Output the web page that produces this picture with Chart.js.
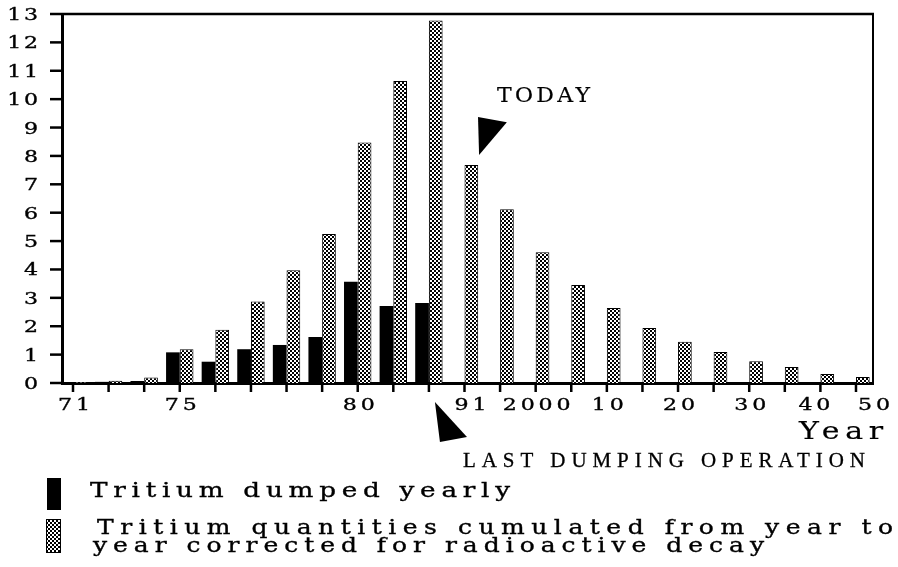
<!DOCTYPE html>
<html>
<head>
<meta charset="utf-8">
<script src="https://cdn.jsdelivr.net/npm/chart.js@4"></script>
<style>
  html, body { margin: 0; padding: 0; background: #fff; }
  canvas { display: block; }
</style>
</head>
<body>
<canvas id="c" width="898" height="567"></canvas>
<script>
// ---- data ----
const tickLabels = ['71','','','75','','','','','80','','','91','','2000','','10','','20','','30','','40','50'];
const dumpedYearly = [0.02,0.04,0.07,1.08,0.75,1.19,1.34,1.62,3.57,2.71,2.82,null,null,null,null,null,null,null,null,null,null,null,null];
const cumulatedDecay = [0.03,0.08,0.19,1.19,1.88,2.87,3.97,5.25,8.47,10.64,12.77,7.68,6.12,4.61,3.45,2.64,1.94,1.45,1.09,0.77,0.56,0.32,0.21];
const yMin = 0, yMax = 13, yStep = 1;
const legendLabels = ['Tritium dumped yearly', 'Tritium quantities cumulated from year to', 'year corrected for radioactive decay'];
const noteToday = 'TODAY';
const noteLast = 'LAST DUMPING OPERATION';
const axisTitleX = 'Year';

// ---- hatch pattern ----
const pc = document.createElement('canvas');
pc.width = 4; pc.height = 4;
const pctx = pc.getContext('2d');
pctx.fillStyle = '#fff'; pctx.fillRect(0, 0, 4, 4);
pctx.fillStyle = '#000'; pctx.fillRect(0, 0, 2, 2); pctx.fillRect(2, 2, 2, 2);
pctx.fillRect(1, 1, 1, 1);
const canvas = document.getElementById('c');
const ctx0 = canvas.getContext('2d');
const hatch = ctx0.createPattern(pc, 'repeat');

const SERIF = '"DejaVu Serif", serif';
function txt(ctx, s, o) {
  ctx.save();
  ctx.font = `${o.size}px ${o.family || SERIF}`;
  try { ctx.letterSpacing = '0px'; } catch (e) {}
  const base = ctx.measureText(s).width;
  const sx = o.sx || 1;
  const n = [...s].length;
  let ls = o.ls || 0;
  if (o.width && n > 1) ls = (o.width / sx - base) / (n - 1);
  const w = (base + ls * (n - 1)) * sx;
  let left = o.x;
  if (o.align === 'right') left = o.x - w;
  else if (o.align === 'center') left = o.x - w / 2;
  try { ctx.letterSpacing = ls + 'px'; } catch (e) {}
  ctx.translate(left, o.y);
  ctx.scale(sx, 1);
  ctx.fillStyle = '#000';
  ctx.strokeStyle = '#000';
  ctx.textAlign = 'left';
  ctx.textBaseline = 'alphabetic';
  ctx.fillText(s, 0, 0);
  if (o.bold !== 0) {
    ctx.lineWidth = o.bold || 0.35;
    ctx.strokeText(s, 0, 0);
  }
  ctx.restore();
}

const labelNudge = { 11: 5, 21: -7, 22: 17 };

const decor = {
  id: 'decor',
  afterDraw(chart) {
    const ctx = chart.ctx;
    const a = chart.chartArea;
    const xs = chart.scales.x, ys = chart.scales.y;
    ctx.save();
    ctx.strokeStyle = '#000';
    // top and right frame
    ctx.lineWidth = 2.5;
    ctx.beginPath(); ctx.moveTo(a.left, a.top); ctx.lineTo(a.right + 1, a.top); ctx.stroke();
    ctx.lineWidth = 2;
    ctx.beginPath(); ctx.moveTo(a.right, a.top); ctx.lineTo(a.right, a.bottom); ctx.stroke();
    // tick marks
    ctx.lineWidth = 2.5;
    ys.ticks.forEach(t => {
      const y = ys.getPixelForValue(t.value);
      ctx.beginPath(); ctx.moveTo(a.left - 12, y); ctx.lineTo(a.left, y); ctx.stroke();
    });
    xs.ticks.forEach(t => {
      const x = xs.getPixelForValue(t.value);
      ctx.beginPath(); ctx.moveTo(x, a.bottom - 1); ctx.lineTo(x, a.bottom + 9); ctx.stroke();
    });
    ctx.restore();

    // y tick labels
    ys.ticks.forEach(t => {
      const y = ys.getPixelForValue(t.value);
      txt(ctx, String(t.value), { x: 38, y: y + 6, size: 17, sx: 1.3, ls: 2, align: 'right' });
    });
    // x tick labels
    xs.ticks.forEach(t => {
      const lab = tickLabels[t.value];
      if (!lab) return;
      const x = xs.getPixelForValue(t.value) + (labelNudge[t.value] || 0);
      txt(ctx, lab, { x: x + 1, y: a.bottom + 27, size: 17, sx: 1.3, ls: 3, align: 'center' });
    });

    // TODAY arrow (anchored on scale values)
    ctx.save();
    ctx.fillStyle = '#000';
    ctx.beginPath();
    ctx.moveTo(xs.getPixelForValue(11.38), ys.getPixelForValue(9.37));
    ctx.lineTo(xs.getPixelForValue(12.19), ys.getPixelForValue(9.19));
    ctx.lineTo(xs.getPixelForValue(11.41), ys.getPixelForValue(8.03));
    ctx.closePath(); ctx.fill();
    // last dumping arrow
    ctx.beginPath();
    ctx.moveTo(xs.getPixelForValue(10.17), ys.getPixelForValue(-0.67));
    ctx.lineTo(xs.getPixelForValue(11.07), ys.getPixelForValue(-1.90));
    ctx.lineTo(xs.getPixelForValue(10.31), ys.getPixelForValue(-2.08));
    ctx.closePath(); ctx.fill();
    ctx.restore();

    txt(ctx, noteToday, { x: 497, y: 102, size: 20, sx: 1.1, width: 93, bold: 0.2 });
    txt(ctx, axisTitleX, { x: 799, y: 439, size: 25, sx: 1.2, width: 84, bold: 0.2 });
    txt(ctx, noteLast, { x: 463, y: 467, size: 21, family: '"Liberation Serif", serif', width: 402, bold: 0.3 });

    // legend
    ctx.save();
    ctx.fillStyle = '#000';
    ctx.fillRect(47, 478, 14, 32);
    ctx.fillStyle = hatch;
    ctx.fillRect(46, 519, 15, 34);
    ctx.strokeStyle = '#000'; ctx.lineWidth = 1;
    ctx.strokeRect(46.5, 519.5, 14, 33);
    ctx.restore();
    txt(ctx, legendLabels[0], { x: 90, y: 497, size: 21, sx: 1.25, width: 420 });
    txt(ctx, legendLabels[1], { x: 97, y: 534, size: 20, sx: 1.25, width: 796 });
    txt(ctx, legendLabels[2], { x: 93, y: 552, size: 20, sx: 1.25, width: 671 });
  }
};

new Chart(canvas, {
  type: 'bar',
  data: {
    datasets: [
      {
        label: legendLabels[0],
        data: dumpedYearly.map((v, i) => ({ x: i, y: v })),
        backgroundColor: '#000',
        borderWidth: 0,
        categoryPercentage: 0.77,
        barPercentage: 1
      },
      {
        label: legendLabels[1] + ' ' + legendLabels[2],
        data: cumulatedDecay.map((v, i) => ({ x: i, y: v })),
        backgroundColor: hatch,
        borderColor: '#000',
        borderWidth: 1,
        categoryPercentage: 0.77,
        barPercentage: 1
      }
    ]
  },
  options: {
    responsive: false,
    animation: false,
    devicePixelRatio: 1,
    layout: { padding: { top: 14, right: 25, left: 0, bottom: 0 } },
    plugins: { legend: { display: false }, tooltip: { enabled: false } },
    scales: {
      x: {
        type: 'linear',
        bounds: 'data',
        min: -0.309,
        max: 22.478,
        offset: false,
        afterBuildTicks: s => { s.ticks = tickLabels.map((_, i) => ({ value: i })); },
        ticks: { display: false, autoSkip: false, callback: v => tickLabels[v] || '' },
        grid: { display: false },
        border: { display: true, color: '#000', width: 3 },
        afterFit: s => { s.height = 184; }
      },
      y: {
        min: yMin,
        max: yMax,
        ticks: { display: false, stepSize: yStep },
        grid: { display: false },
        border: { display: true, color: '#000', width: 3 },
        afterFit: s => { s.width = 62; }
      }
    }
  },
  plugins: [decor]
});
</script>
</body>
</html>
